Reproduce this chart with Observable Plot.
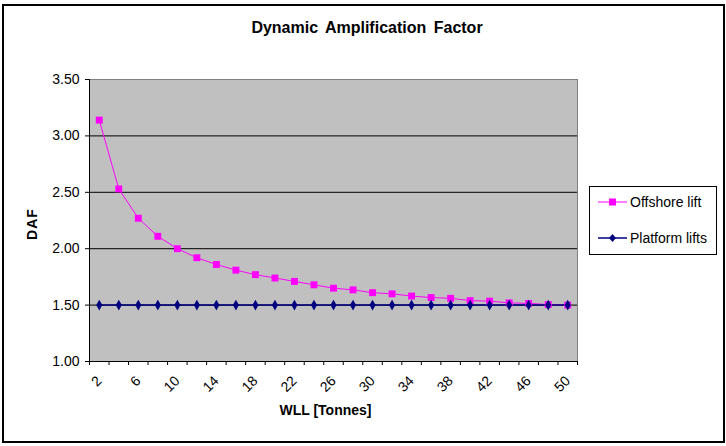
<!DOCTYPE html>
<html>
<head>
<meta charset="utf-8">
<script src="https://cdn.jsdelivr.net/npm/d3@7"></script>
<script src="https://cdn.jsdelivr.net/npm/@observablehq/plot@0.6"></script>
<style>
  html, body { margin: 0; padding: 0; background: #fff; }
  #wrap { position: relative; width: 726px; height: 446px; overflow: hidden; font-family: Arial, "Liberation Sans", sans-serif; }
  #border { position: absolute; left: 2px; top: 4px; width: 719px; height: 435px; border: 2px solid #000; }
  #title { position: absolute; left: 0; width: 734px; top: 19px; text-align: center; font-weight: bold; font-size: 16px; word-spacing: 3px; }
  #xlabel { position: absolute; left: 0; width: 651px; top: 402px; text-align: center; font-weight: bold; font-size: 14px; }
  #ylabel { position: absolute; left: 32px; top: 224px; font-weight: bold; font-size: 14px; transform: translate(-50%,-50%) rotate(-90deg); letter-spacing: 1px; }
  #chart { position: absolute; left: 0; top: 0; }
  #legend { position: absolute; left: 589px; top: 186px; width: 126px; height: 67px; border: 1px solid #000; background: #fff; font-size: 14px; }
  .item { position: absolute; left: 8px; display: flex; align-items: center; }
  .item svg { margin-right: 3px; }
</style>
</head>
<body>
<div id="wrap">
  <div id="border"></div>
  <div id="chart"></div>
  <div id="title">Dynamic Amplification Factor</div>
  <div id="xlabel">WLL [Tonnes]</div>
  <div id="ylabel">DAF</div>
  <div id="legend"></div>
</div>
<script>
// Data
const wll = [2,4,6,8,10,12,14,16,18,20,22,24,26,28,30,32,34,36,38,40,42,44,46,48,50];
const offshoreLift = [3.14,2.53,2.27,2.11,2.00,1.92,1.86,1.81,1.77,1.74,1.71,1.68,1.65,1.635,1.61,1.60,1.58,1.567,1.56,1.54,1.535,1.52,1.515,1.505,1.50];
const platformLifts = [1.50,1.50,1.50,1.50,1.50,1.50,1.50,1.50,1.50,1.50,1.50,1.50,1.50,1.50,1.50,1.50,1.50,1.50,1.50,1.50,1.50,1.50,1.50,1.50,1.50];
const yTicks = [1.00,1.50,2.00,2.50,3.00,3.50];
const xLabelTicks = [2,6,10,14,18,22,26,30,34,38,42,46,50];
const xBoundaryTicks = [1,3,5,7,9,11,13,15,17,19,21,23,25,27,29,31,33,35,37,39,41,43,45,47,49,51];
const seriesNames = ["Offshore lift","Platform lifts"];
const seriesColors = ["#FF00FF","#000080"];

const off = wll.map((w,i)=>({x:w, y:offshoreLift[i]}));
const plat = wll.map((w,i)=>({x:w, y:platformLifts[i]}));

const chart = Plot.plot({
  width: 726,
  height: 446,
  marginLeft: 89,
  marginRight: 149,
  marginTop: 79,
  marginBottom: 85,
  style: {fontFamily: "Arial, 'Liberation Sans', sans-serif", fontSize: "14px", background: "transparent", color: "#000"},
  x: {type: "linear", domain: [1, 51]},
  y: {domain: [1, 3.5]},
  marks: [
    Plot.frame({fill: "#C0C0C0", stroke: "#808080"}),
    Plot.gridY([1.5,2.0,2.5,3.0], {stroke: "#000", strokeOpacity: 1, strokeWidth: 1}),
    Plot.ruleX([1], {stroke: "#000"}),
    Plot.ruleY([1], {stroke: "#000"}),
    Plot.axisY(yTicks, {tickSize: 4, tickPadding: 6, tickFormat: d3.format(".2f"), label: null, fontSize: 14}),
    Plot.axisX(xBoundaryTicks, {tickSize: 4, tickFormat: () => "", label: null}),
    Plot.axisX(xLabelTicks, {tickSize: 0, tickPadding: 17, tickRotate: -45, label: null, fontSize: 14}),
    Plot.line(off, {x: "x", y: "y", stroke: seriesColors[0], strokeWidth: 1}),
    Plot.line(plat, {x: "x", y: "y", stroke: seriesColors[1], strokeWidth: 1.5}),
    Plot.dot(off, {x: "x", y: "y", symbol: "square", r: 3.9, fill: seriesColors[0], stroke: "none"}),
    Plot.dot(plat, {x: "x", y: "y", symbol: "diamond", r: 3.2, fill: seriesColors[1], stroke: "none"})
  ]
});
document.getElementById("chart").appendChild(chart);

// Legend
const legend = document.getElementById("legend");
const sym = [
  '<rect x="11" y="2.5" width="7" height="7" fill="#FF00FF"/>',
  '<path d="M14.5,2 L18,6 L14.5,10 L11,6 Z" fill="#000080"/>'
];
seriesNames.forEach((name, i) => {
  const d = document.createElement("div");
  d.className = "item";
  d.style.top = (i === 0 ? 7 : 43) + "px";
  d.innerHTML = `<svg width="29" height="12"><line x1="0" x2="29" y1="6" y2="6" stroke="${seriesColors[i]}" stroke-width="${i===0?1:1.5}"/>${sym[i]}</svg><span>${name}</span>`;
  legend.appendChild(d);
});
</script>
</body>
</html>
